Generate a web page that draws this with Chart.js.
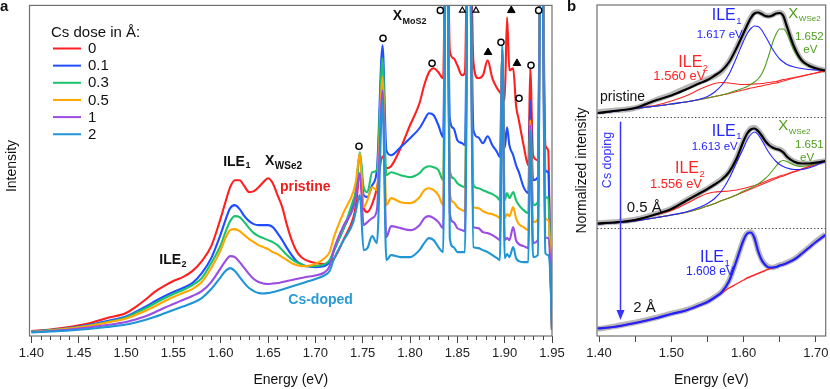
<!DOCTYPE html>
<html><head><meta charset="utf-8">
<script src="https://cdn.jsdelivr.net/npm/chart.js@4.4.1/dist/chart.umd.min.js"></script>
<style>
html,body{margin:0;padding:0;background:#fff;}
#wrap{position:relative;width:830px;height:389px;overflow:hidden;background:#fff;}
#ca{position:absolute;left:0;top:0;width:565px;height:389px;}
#cb{position:absolute;left:560px;top:0;width:270px;height:389px;}
</style></head><body>
<div id="wrap"><canvas id="ca" width="565" height="389"></canvas><canvas id="cb" width="270" height="389"></canvas></div>
<script>
const FF = '"Liberation Sans", Arial, Helvetica, sans-serif';

// ---------- Panel a data (energy in eV, intensity in arb. units) ----------
const energyA = [1.40,1.42,1.44,1.46,1.48,
 1.50,1.51,1.52,1.53,1.54,1.55,1.56,1.57,1.58,1.59,1.60,
 1.605,1.61,1.615,1.62,1.625,1.63,1.635,1.64,1.645,1.65,1.655,1.66,1.665,1.67,1.675,1.68,1.685,1.69,
 1.70,1.71,1.715,1.72,1.73,1.74,
 1.743,1.747,1.751,1.755,1.76,1.765,1.771,1.775,1.78,1.79,
 1.80,1.81,1.815,1.82,1.825,1.83,1.835,1.8385,
 1.842,1.846,1.85,1.855,1.858,1.862,
 1.867,1.872,1.877,1.882,1.887,1.892,1.895,1.8975,
 1.90,1.9025,1.905,1.909,1.912,1.915,1.92,1.925,1.927,
 1.93,1.935,1.9387,1.943,1.946,1.948,1.95];

const dose0 = [5,6.5,9,12.5,18,
 23,29,36,44,50,55,59,65,75,90,118,
 134,149,156,156,150,144,145,149,154,158,153,141,129,111,96,85,79,76,
 73,72,74,78,97,118,
 132,163,128,124,132,148,180,168,170,188,
 211,233,251,264,268,264,258,500,
 286,278,271,261,264,500,
 274,258,261,276,258,248,244,241,
 236,319,266,268,231,216,191,171,268,
 181,176,500,191,186,86,6];

const dose01 = [4.5,6,8,11,15,
 19.5,24,29,34.5,39.5,44,48,53,63,78,102,
 116,128,131,127,120,115,112,111,111,111,109,103,96,88,81,75,72,70,
 69,70,74,86,108,131,
 146,183,141,139,151,166,291,186,181,189,
 198,208,216,223,221,211,199,500,
 218,208,196,193,191,500,
 206,199,193,200,191,184,179,288,
 188,209,191,181,171,164,149,143,236,
 156,159,500,166,164,86,6];

const dose03 = [4.5,6,7.7,10.5,14,
 18.5,23,27.5,32.5,37.5,42,46,51,58,73,91,
 104,115,120,119,114,108,103,100,98,96,94,91,86,81,77,74,72,70,
 70,72,76,87,108,136,
 146,184,149,144,164,166,278,161,164,161,
 159,163,168,170,169,166,156,500,
 166,158,153,150,149,500,
 151,148,146,144,142,139,136,286,
 136,143,138,144,136,131,126,123,216,
 131,134,500,138,139,86,6];

const dose05 = [4,5.5,7.5,10,13.5,
 17.5,21,25,29.5,34.5,39,43,47,54,68,86,
 98,106,107,105,101,97,94,91,89,87,84,82,79,76,73,71,70,70,
 72,78,84,100,124,144,
 156,183,129,136,149,146,259,131,138,134,
 133,139,146,148,146,141,131,500,
 143,134,129,126,125,500,
 129,128,125,123,122,120,118,286,
 118,122,120,129,118,112,109,106,216,
 114,117,500,118,116,86,6];

const dose1 = [4,5,6.5,8.5,11,
 14,16.5,19.5,23.5,28,32,36,40,45,54,68,
 75,80,79,74,68,62,57,54,52.5,52,52.5,53,54,55,56,57,58,59,
 60.5,64,70,88,111,128,
 141,163,111,114,118,126,246,99,110,108,
 106,111,118,120,118,114,108,500,
 123,114,108,106,105,500,
 109,108,104,103,101,98,96,286,
 96,98,96,109,96,92,90,88,211,
 93,96,500,99,98,76,6];

const dose2 = [3.5,4.5,5.5,7,9,
 11.5,13.5,16,19,22.5,26,29.5,33,38,47,59,
 65,68,65,59,53,48,45,43,42.5,43,44,45,46.5,48,49.5,51,52.5,54,
 57,61,65,78,96,114,
 126,141,86,88,100,93,236,76,81,79,
 79,86,93,98,96,89,84,500,
 98,89,84,84,84,500,
 89,88,86,84,81,78,76,291,
 78,82,79,89,78,75,74,74,206,
 79,81,500,83,81,66,6];

const doseLabels = ['0','0.1','0.3','0.5','1','2'];
const ticksA = [1.40,1.45,1.50,1.55,1.60,1.65,1.70,1.75,1.80,1.85,1.90,1.95];

// peak markers (energy, intensity)
const circleE = [1.7461,1.7715,1.8233,1.8320,1.8961,1.9152,1.9278,1.9359];
const circleV = [190,298,273,326,294,238,271,326];
const openTriE = [1.8553,1.8697];
const openTriV = [326,326];
const fillTriE = [1.8824,1.9070,1.9130];
const fillTriV = [284,326,273];

// ---------- Panel b data ----------
const energyB = [1.398,1.42,1.45,1.48,1.50,1.52,1.54,1.55,1.56,1.57,1.58,1.59,1.60,1.605,1.61,1.615,1.62,1.625,1.63,1.635,1.64,1.645,1.65,1.655,1.66,1.67,1.68,1.69,1.70,1.713];

const prisData = [224,225.5,228,236.5,241.5,248,254,257,260,265,274.5,288,303.5,311.5,318.5,323.5,324,322.5,320.5,320,321,323,323.5,320.5,309,289.5,276,271,268,265.5];
const prisFit  = [223,225,228,236,240.5,246.5,253,256,260.5,265.5,274,287.5,303,311,318,322.5,323.5,322,320,319.5,320.5,322.5,323,320,309.3,289,276,270.5,267.7,265.5];
const prisILE1 = [222.5,224.5,227.5,230,232,234,237,239.5,244,251,262,278,295,302.5,307.5,310,309.5,306,300,293.5,287,281.5,277,274,271.5,269,267.5,266.5,266,265.5];
const prisILE2 = [222.5,224.7,227.5,231,235,240,247,250,252.5,253.5,253,252,251.5,251.5,251.7,252,252.2,252.5,253,253.5,254,254.5,255.5,256.5,257,258.5,260,261.5,263,265.5];
const prisX    = [222.5,224.5,227.5,230,232,234,236.5,238,239.5,241,243,245.5,248,249.5,251.5,254,257,262,270,281,293,302,307,307,302.5,285,275,270,267,265.5];
const prisBg   = [222.5,224.5,227.5,230,232,234,236.5,238,239.5,241,242.5,244.5,246,247,248,248.5,249.5,250,251,251.5,252.5,253,254,255,256,258,259.5,261.5,263,265.5];

const midData = [113,114,116.5,122.5,127.5,135.5,143.5,147.5,152,157,164.5,177.5,195.5,203,207.5,208.5,205.5,201,195.5,191.5,189,187.5,186.5,184,179.5,174.5,172.5,172.5,173.5,175];
const midFit  = [112.5,113.5,116,122,127,135,143,147,151.5,156.5,164,177,195,202.5,206.5,207.5,205,200.5,195,191,188.5,187,186,183.5,179.3,174.3,172.5,172.5,173.3,175];
const midILE1 = [112,113,115,118.5,121,124,129,132.5,137.5,145.5,157.5,173,188,196,201.5,204,201.5,196,189.5,183.5,178.5,174.5,171.5,169.5,168,166.5,166.5,168,170.5,174.5];
const midILE2 = [112,113.5,116.5,121.5,125.5,132,139.5,142.5,144,144.5,145,146,147.5,148.5,149.5,150.5,151.5,153,154.5,156,157.5,158.5,160,161,162,164.5,167,169.5,172,174.5];
const midX    = [112,113,115,118.5,121,123.5,127.5,130,132.5,135.5,138,141,145,146.5,148,150,152,154.5,157.5,161,165.5,170,174,175.5,174.5,171,169.5,170.5,172,174.5];
const midBg   = [112,113,115,118.5,121,123.5,127.5,130,132.5,135.5,138,141,144,145.5,147,148.5,150,151.5,153,154.5,156,157.5,159,160,161.5,164,166.5,169,171.5,174.5];

const lowData = [7,9.5,13.5,18.5,22.5,26,31.5,34.5,39,44.5,55.5,75.5,96.5,103,104,98.5,85.5,76.5,71.5,69,68.5,69.5,71,72,73.5,77,82.5,88.5,94.5,101.5];
const lowFit  = [7.5,9,13,18,22,25.5,31,34,38.5,44,55,75,96,102.5,103.5,98,85,76,71,68.5,68.5,69,70.5,71.5,73,76.5,82,88,94,101];
const lowBg   = [7.5,9,13,18,22,25.5,31,34,38.5,43,48,52,56,58,59.5,61,62.5,64,65.5,67,68,69,70.5,71.5,73,76.5,82,88,94,101];

const ticksB = [1.40,1.45,1.50,1.55,1.60,1.65,1.70];
const separatorsB = [219.5,107.7];

// ---------- styles ----------
const colorsA = ['#ff1f1f','#1f4dff','#1cc26b','#ffa700','#9a4ce4','#1f95d5'];
const cBlue = '#2424ff', cRed = '#ff2424', cGreen = '#4e9c1c', cGray = '#b7b7b7';

const pts = (xs, ys) => xs.map((x, i) => ({x, y: ys[i]}));

function drawLabel(ctx, a, x, y) {
  const w0 = a.bold ? 'bold ' : '';
  ctx.font = w0 + a.size + 'px ' + FF;
  ctx.fillStyle = a.color;
  ctx.textAlign = 'left';
  ctx.textBaseline = 'middle';
  ctx.fillText(a.main, x, y);
  if (a.sub) {
    const w = ctx.measureText(a.main).width;
    ctx.font = w0 + a.subSize + 'px ' + FF;
    ctx.fillText(a.sub, x + w + 0.5, y + a.subDy);
  }
}

const annA = [
  {main:'ILE', sub:'1', e:1.6026, v:174.3, color:'#111', size:14, subSize:9, subDy:4, bold:true},
  {main:'X', sub:'WSe2', e:1.6468, v:175, color:'#111', size:14, subSize:10, subDy:5, bold:true},
  {main:'pristine', e:1.6626, v:149, color:'#f21c1c', size:14, bold:true},
  {main:'ILE', sub:'2', e:1.5351, v:76, color:'#111', size:14, subSize:9, subDy:4, bold:true},
  {main:'Cs-doped', e:1.6714, v:35.5, color:'#2a9ad6', size:14, bold:true},
  {main:'X', sub:'MoS2', e:1.7817, v:320, color:'#111', size:14, subSize:9, subDy:5, bold:true}
];

const annB = [
  {main:'ILE', sub:'1', e:1.5559, v:320, color:cBlue, size:16, subSize:9.5, subDy:5},
  {main:'1.617 eV', e:1.5351, v:301.5, color:cBlue, size:11.5},
  {main:'ILE', sub:'2', e:1.5097, v:273, color:cRed, size:16, subSize:9.5, subDy:5},
  {main:'1.560 eV', e:1.4751, v:260, color:cRed, size:13},
  {main:'X', sub:'WSe2', e:1.6619, v:322, color:cGreen, size:15, subSize:8, subDy:5},
  {main:'1.652', e:1.6711, v:299.5, color:cGreen, size:11.5},
  {main:'eV', e:1.6826, v:286, color:cGreen, size:11.5},
  {main:'pristine', e:1.4013, v:239, color:'#111', size:14},
  {main:'ILE', sub:'1', e:1.5559, v:204.5, color:cBlue, size:16, subSize:9.5, subDy:5},
  {main:'1.613 eV', e:1.5282, v:189.5, color:cBlue, size:11.5},
  {main:'ILE', sub:'2', e:1.5051, v:167, color:cRed, size:16, subSize:9.5, subDy:5},
  {main:'1.556 eV', e:1.4705, v:152, color:cRed, size:13},
  {main:'X', sub:'WSe2', e:1.6480, v:210, color:cGreen, size:15, subSize:8, subDy:5.5},
  {main:'1.651', e:1.6711, v:190.7, color:cGreen, size:11.5},
  {main:'eV', e:1.6781, v:178.3, color:cGreen, size:11.5},
  {main:'0.5 Å', e:1.4383, v:128.5, color:'#111', size:15},
  {main:'2 Å', e:1.4474, v:28, color:'#111', size:15},
  {main:'ILE', sub:'1', e:1.5397, v:78, color:cBlue, size:16, subSize:9.5, subDy:5},
  {main:'1.608 eV', e:1.5203, v:64.3, color:cBlue, size:12}
];

// ---------- Panel a ----------
const decorA = {
  id: 'decorA',
  afterDraw(chart) {
    const {ctx, chartArea: ca, scales: {x, y}} = chart;
    ctx.save();
    ctx.strokeStyle = '#707070'; ctx.lineWidth = 1.2;
    ctx.strokeRect(ca.left, ca.top, ca.right - ca.left, ca.bottom - ca.top);
    ctx.strokeStyle = '#444'; ctx.lineWidth = 1;
    ctx.beginPath();
    for (let i = 0; i < ticksA.length - 1; i++) {
      for (let k = 1; k < 5; k++) {
        const e = ticksA[i] + (ticksA[i + 1] - ticksA[i]) * k / 5;
        const px = Math.round(x.getPixelForValue(e)) + 0.5;
        ctx.moveTo(px, ca.bottom); ctx.lineTo(px, ca.bottom + 4);
      }
    }
    ctx.stroke();
    ctx.textAlign = 'left'; ctx.textBaseline = 'middle';
    ctx.fillStyle = '#111';
    ctx.font = '15px ' + FF;
    ctx.fillText('Cs dose in Å:', 51, 32.5);
    doseLabels.forEach((lab, i) => {
      const ly = 48.5 + 17.15 * i;
      ctx.strokeStyle = colorsA[i]; ctx.lineWidth = 2;
      ctx.beginPath(); ctx.moveTo(53, ly); ctx.lineTo(81, ly); ctx.stroke();
      ctx.fillStyle = '#111';
      ctx.fillText(lab, 88, ly + 0.5);
    });
    annA.forEach(a => drawLabel(ctx, a, x.getPixelForValue(a.e), y.getPixelForValue(a.v)));
    ctx.fillStyle = '#111'; ctx.font = '14px ' + FF; ctx.textAlign = 'center'; ctx.textBaseline = 'middle';
    ctx.fillText('Energy (eV)', (ca.left + ca.right) / 2, 380.5);
    ctx.save(); ctx.translate(12, 166); ctx.rotate(-Math.PI / 2);
    ctx.fillText('Intensity', 0, 0); ctx.restore();
    ctx.font = 'bold 15px ' + FF; ctx.textAlign = 'left';
    ctx.fillText('a', 0, 7);
    ctx.restore();
  }
};

const dsA = [dose0, dose01, dose03, dose05, dose1, dose2].map((ys, i) => ({
  type: 'line', label: doseLabels[i], data: pts(energyA, ys),
  borderColor: colorsA[i], borderWidth: 2.1, pointRadius: 0,
  cubicInterpolationMode: 'monotone', fill: false, order: 6 - i
}));
dsA.push({type:'scatter', label:'circ', data: pts(circleE, circleV), pointStyle:'circle', pointRadius:3.1,
  pointBackgroundColor:'#fff', pointBorderColor:'#000', pointBorderWidth:1.4, showLine:false, order:0, clip:false});
dsA.push({type:'scatter', label:'otri', data: pts(openTriE, openTriV), pointStyle:'triangle', pointRadius:3.4,
  pointBackgroundColor:'#fff', pointBorderColor:'#000', pointBorderWidth:1.2, showLine:false, order:0, clip:false});
dsA.push({type:'scatter', label:'ftri', data: pts(fillTriE, fillTriV), pointStyle:'triangle', pointRadius:4.4,
  pointBackgroundColor:'#000', pointBorderColor:'#000', pointBorderWidth:1, showLine:false, order:0, clip:false});

new Chart(document.getElementById('ca'), {
  type: 'line',
  data: {datasets: dsA},
  options: {
    responsive: false, animation: false, devicePixelRatio: 1,
    layout: {padding: {top: 5, right: 13, bottom: 0, left: 0}},
    plugins: {legend: {display: false}, tooltip: {enabled: false}},
    scales: {
      x: {
        type: 'linear', min: 1.398, max: 1.95,
        afterBuildTicks: s => { s.ticks = ticksA.map(v => ({value: v})); },
        afterFit: s => { s.height = 53; s.paddingLeft = 0; s.paddingRight = 0; },
        grid: {display: true, drawOnChartArea: false, drawTicks: true, tickLength: 7, tickColor: '#444', color: '#444'},
        border: {display: false},
        ticks: {font: {size: 13, family: FF}, color: '#222', padding: 3, maxRotation: 0, autoSkip: false,
          callback: v => Number(v).toFixed(2)}
      },
      y: {
        type: 'linear', min: 0, max: 331,
        ticks: {display: false}, grid: {display: false}, border: {display: false},
        afterFit: s => { s.width = 29.5; }
      }
    }
  },
  plugins: [decorA]
});

// ---------- Panel b ----------
const decorB = {
  id: 'decorB',
  afterDraw(chart) {
    const {ctx, chartArea: ca, scales: {x, y}} = chart;
    ctx.save();
    ctx.strokeStyle = '#707070'; ctx.lineWidth = 1.2;
    ctx.strokeRect(ca.left, ca.top, ca.right - ca.left, ca.bottom - ca.top);
    ctx.strokeStyle = '#555'; ctx.lineWidth = 1; ctx.setLineDash([1.5, 2]);
    separatorsB.forEach(v => {
      const py = Math.round(y.getPixelForValue(v)) + 0.5;
      ctx.beginPath(); ctx.moveTo(ca.left, py); ctx.lineTo(ca.right, py); ctx.stroke();
    });
    ctx.setLineDash([]);
    annB.forEach(a => drawLabel(ctx, a, x.getPixelForValue(a.e), y.getPixelForValue(a.v)));
    const ax = Math.round(x.getPixelForValue(1.4297)) + 0.5;
    const ay0 = y.getPixelForValue(214.3), ay1 = y.getPixelForValue(16);
    ctx.strokeStyle = '#3535ff'; ctx.fillStyle = '#3535ff'; ctx.lineWidth = 1.5;
    ctx.beginPath(); ctx.moveTo(ax, ay0); ctx.lineTo(ax, ay1 - 8); ctx.stroke();
    ctx.beginPath(); ctx.moveTo(ax - 4, ay1 - 10); ctx.lineTo(ax + 4, ay1 - 10); ctx.lineTo(ax, ay1); ctx.closePath(); ctx.fill();
    ctx.save();
    ctx.translate(x.getPixelForValue(1.4124), y.getPixelForValue(176)); ctx.rotate(-Math.PI / 2);
    ctx.font = '12.5px ' + FF; ctx.fillStyle = '#3535ff'; ctx.textAlign = 'center'; ctx.textBaseline = 'middle';
    ctx.fillText('Cs doping', 0, 0);
    ctx.restore();
    ctx.fillStyle = '#111'; ctx.font = '14px ' + FF; ctx.textAlign = 'center'; ctx.textBaseline = 'middle';
    ctx.fillText('Energy (eV)', (ca.left + ca.right) / 2, 380.5);
    ctx.save(); ctx.translate(22, (ca.top + ca.bottom) / 2); ctx.rotate(-Math.PI / 2);
    ctx.fillText('Normalized intensity', 0, 0); ctx.restore();
    ctx.font = 'bold 15px ' + FF; ctx.textAlign = 'left';
    ctx.fillText('b', 7, 7);
    ctx.restore();
  }
};

const lineB = (data, color, w, order) => ({
  data: pts(energyB, data), borderColor: color, borderWidth: w, pointRadius: 0,
  cubicInterpolationMode: 'monotone', fill: false, order
});

new Chart(document.getElementById('cb'), {
  type: 'line',
  data: {datasets: [
    lineB(prisData, cGray, 5.5, 20), lineB(midData, cGray, 5.5, 20), lineB(lowData, cGray, 5.5, 20),
    lineB(prisBg, cRed, 1.1, 6), lineB(prisILE2, cRed, 1.1, 6), lineB(prisX, cGreen, 1.1, 5), lineB(prisILE1, cBlue, 1.1, 4),
    lineB(prisFit, '#000', 2.2, 1),
    lineB(midBg, cRed, 1.1, 6), lineB(midILE2, cRed, 1.1, 6), lineB(midX, cGreen, 1.1, 5), lineB(midILE1, cBlue, 1.1, 4),
    lineB(midFit, '#000', 2.2, 1),
    lineB(lowBg, cRed, 1.4, 2), lineB(lowFit, '#1f1fff', 2.2, 1)
  ]},
  options: {
    responsive: false, animation: false, devicePixelRatio: 1,
    layout: {padding: {top: 5, right: 4.3, bottom: 0, left: 0}},
    plugins: {legend: {display: false}, tooltip: {enabled: false}},
    scales: {
      x: {
        type: 'linear', min: 1.3972, max: 1.7136,
        afterBuildTicks: s => { s.ticks = ticksB.map(v => ({value: v})); },
        afterFit: s => { s.height = 53; s.paddingLeft = 0; s.paddingRight = 0; },
        grid: {display: true, drawOnChartArea: false, drawTicks: true, tickLength: 6, tickColor: '#444', color: '#444'},
        border: {display: false},
        ticks: {font: {size: 13, family: FF}, color: '#222', padding: 4, maxRotation: 0, autoSkip: false,
          callback: v => (Math.round(v * 100) % 10 === 0 ? Number(v).toFixed(2) : '')}
      },
      y: {
        type: 'linear', min: 0, max: 331,
        ticks: {display: false}, grid: {display: false}, border: {display: false},
        afterFit: s => { s.width = 37; }
      }
    }
  },
  plugins: [decorB]
});
</script>
</body></html>
